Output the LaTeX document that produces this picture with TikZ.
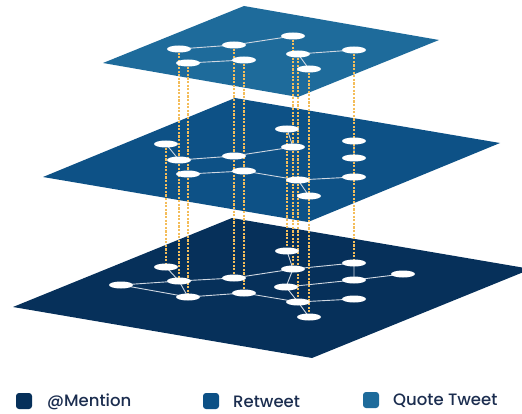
\documentclass[tikz,border=0pt]{standalone}
\usepackage{fontspec}
\setmainfont{Poppins}[UprightFont=* Medium]
\usetikzlibrary{shapes.geometric}
\definecolor{cMention}{HTML}{06305A}
\definecolor{cRetweet}{HTML}{0D5186}
\definecolor{cQuote}{HTML}{1E6B9B}
\definecolor{cDash}{HTML}{F4BD5A}
\definecolor{cEdge}{HTML}{D0D8E2}
\definecolor{cText}{HTML}{1B2D4F}
\tikzset{
  nd/.style={ellipse, fill=white, draw=none, minimum width=24pt, minimum height=7pt, inner sep=0pt},
  edge/.style={draw=cEdge, line width=0.9pt},
  link/.style={draw=cDash, line width=1.2pt, dash pattern=on 2.2pt off 1.4pt},
  legbox/.style={rounded corners=3pt, minimum size=16pt, inner sep=0pt},
  legtext/.style={font=\fontsize{16.5}{19}\selectfont, text=cText, anchor=west, inner sep=0pt}
}
\begin{document}
\begin{tikzpicture}[x=1pt,y=-1pt]
\useasboundingbox (0,0) rectangle (522,414);
% planes
\fill[cMention] (232,218) -- (13,307) -- (312,358) -- (531,269) -- cycle;
\fill[cRetweet] (235,98) -- (43,177) -- (308,222) -- (500,143) -- cycle;
\fill[cQuote] (244,6) -- (103,63) -- (298,97) -- (439,40) -- cycle;
% top nodes
\path
 (179,49) coordinate (A) (234,45) coordinate (B) (293,36) coordinate (C)
 (188,63) coordinate (D) (244,60) coordinate (E) (298,54) coordinate (F)
 (354,50) coordinate (G) (309,69) coordinate (H);
% middle nodes
\path
 (166,144) coordinate (m1) (287,129) coordinate (m2) (354,141) coordinate (m3)
 (179,160) coordinate (m4) (234,156) coordinate (m5) (293,147) coordinate (m6)
 (354,158) coordinate (m7) (188,174) coordinate (m8) (244,171) coordinate (m9)
 (298,180) coordinate (m10) (354,177) coordinate (m11) (309,196) coordinate (m12);
% bottom nodes
\path
 (287,251) coordinate (b1) (166,267) coordinate (b2) (354,263) coordinate (b3)
 (293,269) coordinate (b4) (403,274) coordinate (b5) (179,281) coordinate (b6)
 (234,278) coordinate (b7) (354,280) coordinate (b8) (121,285) coordinate (b9)
 (286,287) coordinate (b10) (188,297) coordinate (b11) (244,293) coordinate (b12)
 (298,302) coordinate (b13) (354,299) coordinate (b14) (309,317) coordinate (b15);
% edges
\draw[edge] (A)--(B)--(C) (D)--(E) (F)--(G) (F)--(H);
\draw[edge] (m1)--(m4)--(m5)--(m6)--(m2) (m3)--(m7) (m8)--(m9)--(m10)--(m11) (m10)--(m12);
\draw[edge] (b1)--(b4) (b2)--(b6)--(b7)--(b4)--(b3)--(b8)--(b5) (b9)--(b6) (b9)--(b11) (b6)--(b11)--(b12)--(b13)
  (b4)--(b10)--(b8) (b10)--(b13)--(b14) (b13)--(b15);
% inter-layer links
\draw[link] (A)--(m4)--(b6) (D)--(m8)--(b11) (B)--(m5)--(b7) (E)--(m9)--(b12)
  (C)--(m6)--(b4) (F)--(m10)--(b13) (H)--(m12)--(b15) (G)--(m3)--(m7)--(m11)--(b3)
  (m1)--(b2) (m2)--(b1);
% nodes
\foreach \n in {A,B,C,D,E,F,G,H,m1,m2,m3,m4,m5,m6,m7,m8,m9,m10,m11,m12,b1,b2,b3,b4,b5,b6,b7,b8,b9,b10,b11,b12,b13,b14,b15}
  \node[nd] (n\n) at (\n) {};
% legend
\node[legbox, fill=cMention] (l1) at (24,401) {};
\node[legtext] (t1) at (47,402) {@Mention};
\node[legbox, fill=cRetweet] (l2) at (211,401) {};
\node[legtext] (t2) at (233,402) {Retweet};
\node[legbox, fill=cQuote] (l3) at (371,400) {};
\node[legtext] (t3) at (393,401) {Quote Tweet};
\end{tikzpicture}
\end{document}
